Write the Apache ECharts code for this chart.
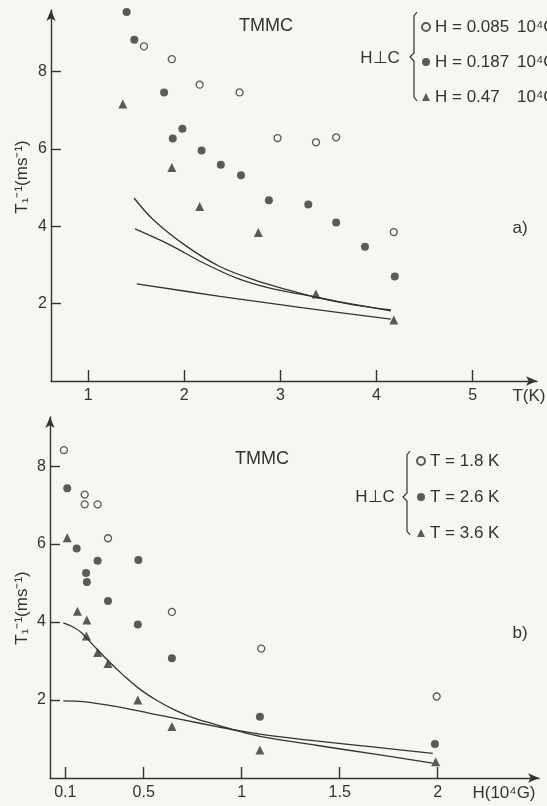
<!DOCTYPE html>
<html>
<head>
<meta charset="utf-8">
<script src="https://cdn.jsdelivr.net/npm/echarts@6/dist/echarts.min.js"></script>
<style>
  * { margin: 0; padding: 0; }
  body { background: #f6f6f3; }
  #main { width: 547px; height: 806px; }
</style>
</head>
<body>
<div id="main"></div>
<script>
  // panel a) : T1^-1 against T, three fields
  var aTicksT = [1, 2, 3, 4, 5];
  var aTicksR = [2, 4, 6, 8];
  var aOpenT = [1.58, 1.87, 2.16, 2.575, 2.97, 3.37, 3.58, 4.18];
  var aOpenR = [8.65, 8.32, 7.66, 7.46, 6.28, 6.17, 6.30, 3.85];
  var aFillT = [1.40, 1.48, 1.79, 1.88, 1.98, 2.18, 2.38, 2.59, 2.88, 3.29, 3.58, 3.88, 4.19];
  var aFillR = [9.54, 8.82, 7.46, 6.27, 6.52, 5.96, 5.59, 5.32, 4.67, 4.56, 4.10, 3.47, 2.70];
  var aTriT = [1.36, 1.87, 2.16, 2.77, 3.37, 4.18];
  var aTriR = [7.16, 5.52, 4.51, 3.84, 2.25, 1.58];
  var aFit1T = [1.477, 1.677, 2.025, 2.37, 2.72, 3.07, 3.41, 3.76, 4.15];
  var aFit1R = [4.73, 4.17, 3.48, 2.96, 2.62, 2.36, 2.14, 1.97, 1.84];
  var aFit2T = [1.487, 1.85, 2.2, 2.545, 2.89, 3.24, 3.59, 4.15];
  var aFit2R = [3.93, 3.52, 3.05, 2.66, 2.40, 2.23, 2.06, 1.81];
  var aFit3T = [1.505, 2.37, 3.24, 4.15];
  var aFit3R = [2.51, 2.19, 1.89, 1.60];
  var aNames = ['H = 0.085|10⁴G', 'H = 0.187|10⁴G', 'H = 0.47|10⁴G'];

  // panel b) : T1^-1 against H, three temperatures
  var bTicksH = [0.1, 0.5, 1, 1.5, 2];
  var bTicksR = [2, 4, 6, 8];
  var bOpenH = [0.093, 0.199, 0.199, 0.265, 0.318, 0.644, 1.10, 1.995];
  var bOpenR = [8.41, 7.27, 7.02, 7.02, 6.15, 4.26, 3.32, 2.09];
  var bFillH = [0.11, 0.158, 0.206, 0.21, 0.265, 0.318, 0.473, 0.47, 0.644, 1.093, 1.986];
  var bFillR = [7.43, 5.89, 5.26, 5.03, 5.57, 4.54, 5.59, 3.94, 3.07, 1.57, 0.87];
  var bTriH = [0.11, 0.162, 0.21, 0.208, 0.265, 0.318, 0.47, 0.644, 1.093, 1.99];
  var bTriR = [6.16, 4.28, 4.05, 3.64, 3.22, 2.94, 2.0, 1.32, 0.72, 0.42];
  var bFit1H = [0.09, 0.13, 0.18, 0.24, 0.32, 0.40, 0.48, 0.57, 0.66, 0.75, 0.86, 0.97, 1.1, 1.38, 1.68, 1.975];
  var bFit1R = [3.98, 3.90, 3.74, 3.42, 3.0, 2.62, 2.28, 1.98, 1.74, 1.55, 1.38, 1.22, 1.06, 0.84, 0.61, 0.38];
  var bFit2H = [0.09, 0.19, 0.362, 0.532, 0.702, 0.872, 1.0, 1.128, 1.38, 1.68, 1.975];
  var bFit2R = [1.98, 1.96, 1.83, 1.66, 1.49, 1.32, 1.2, 1.10, 0.95, 0.79, 0.63];
  var bNames = ['T = 1.8 K', 'T = 2.6 K', 'T = 3.6 K'];

  var ink = '#333';
  var paper = '#f6f6f3';
  var fam = 'Liberation Sans';

  function zip(xs, ys) {
    return xs.map(function (x, i) { return [x, ys[i]]; });
  }

  function xAxisOf(idx, min, max, ticks) {
    return {
      gridIndex: idx, type: 'value', min: min, max: max,
      axisLine: { symbol: ['none', 'arrow'], symbolSize: [7, 11], lineStyle: { color: ink, width: 1.4 } },
      axisTick: { inside: true, length: 11, customValues: ticks, lineStyle: { color: ink, width: 1.4 } },
      axisLabel: { customValues: ticks, margin: 7, color: ink, fontSize: 16, fontFamily: fam },
      splitLine: { show: false }
    };
  }
  function yAxisOf(idx, max, ticks) {
    return {
      gridIndex: idx, type: 'value', min: 0, max: max,
      axisLine: { show: true, symbol: ['none', 'arrow'], symbolSize: [7, 11], lineStyle: { color: ink, width: 1.4 } },
      axisTick: { show: true, inside: true, length: 10, customValues: ticks, lineStyle: { color: ink, width: 1.4 } },
      axisLabel: { customValues: ticks, margin: 4, color: ink, fontSize: 16, fontFamily: fam },
      splitLine: { show: false }
    };
  }

  var openStyle = { color: paper, borderColor: ink, borderWidth: 1.3 };
  var fillStyle = { color: ink };

  function dots(name, idx, data, symbol, size, style) {
    return {
      name: name, type: 'scatter', xAxisIndex: idx, yAxisIndex: idx,
      symbol: symbol, symbolSize: size, itemStyle: style, data: data, z: 5
    };
  }
  function fit(idx, data) {
    return {
      type: 'line', xAxisIndex: idx, yAxisIndex: idx, data: data,
      showSymbol: false, smooth: 0.35, lineStyle: { color: ink, width: 1.3 }, z: 3
    };
  }
  function txt(x, y, s, size, rot) {
    return {
      type: 'text', x: x, y: y, rotation: rot || 0, silent: true,
      style: { text: s, fill: ink, font: size + 'px "' + fam + '"',
        textAlign: 'center', textVerticalAlign: 'middle', align: 'center', verticalAlign: 'middle' }
    };
  }
  function brace(x, top, mid, bottom) {
    return {
      type: 'polyline', silent: true,
      shape: { points: [[x + 4, top], [x + 1, top + 4], [x + 1, mid - 4], [x - 3, mid], [x + 1, mid + 4], [x + 1, bottom - 4], [x + 4, bottom]] },
      style: { stroke: ink, lineWidth: 1.2, fill: null }
    };
  }

  var chart = echarts.init(document.getElementById('main'));
  chart.setOption({
    backgroundColor: paper,
    animation: false,
    textStyle: { fontFamily: fam },
    grid: [
      { left: 51, top: 10, right: 10, bottom: 425 },
      { left: 50, top: 417, right: 8, bottom: 28 }
    ],
    xAxis: [xAxisOf(0, 0.613, 5.67, aTicksT), xAxisOf(1, 0.022, 2.517, bTicksH)],
    yAxis: [yAxisOf(0, 9.59, aTicksR), yAxisOf(1, 9.26, bTicksR)],
    legend: [
      {
        data: aNames, orient: 'vertical', left: 416, top: 13, itemGap: 17,
        itemWidth: 8, itemHeight: 8, selectedMode: false,
        formatter: function (n) { var p = n.split('|'); return '{a|' + p[0] + '}{b|' + p[1] + '}'; },
        textStyle: { color: ink, fontSize: 17, lineHeight: 18,
          rich: { a: { width: 82, fontSize: 17, color: ink, fontFamily: fam }, b: { fontSize: 17, color: ink, fontFamily: fam } } }
      },
      {
        data: bNames, orient: 'vertical', left: 411, top: 447, itemGap: 18,
        itemWidth: 8, itemHeight: 8, selectedMode: false,
        textStyle: { color: ink, fontSize: 17, lineHeight: 18, fontFamily: fam }
      }
    ],
    graphic: [
      txt(266, 26, 'TMMC', 18),
      txt(380, 58, 'H⊥C', 17),
      brace(413, 12, 57, 101),
      txt(520, 228, 'a)', 17),
      txt(529, 396, 'T(K)', 17),
      txt(22, 177, 'T₁⁻¹(ms⁻¹)', 17, Math.PI / 2),
      txt(262, 459, 'TMMC', 18),
      txt(375, 497, 'H⊥C', 17),
      brace(406, 451, 497, 535),
      txt(520, 633, 'b)', 17),
      txt(504, 793, 'H(10⁴G)', 17),
      txt(22, 608, 'T₁⁻¹(ms⁻¹)', 17, Math.PI / 2)
    ],
    series: [
      dots(aNames[0], 0, zip(aOpenT, aOpenR), 'circle', 7, openStyle),
      dots(aNames[1], 0, zip(aFillT, aFillR), 'circle', 8, fillStyle),
      dots(aNames[2], 0, zip(aTriT, aTriR), 'triangle', 9, fillStyle),
      fit(0, zip(aFit1T, aFit1R)),
      fit(0, zip(aFit2T, aFit2R)),
      fit(0, zip(aFit3T, aFit3R)),
      dots(bNames[0], 1, zip(bOpenH, bOpenR), 'circle', 7, openStyle),
      dots(bNames[1], 1, zip(bFillH, bFillR), 'circle', 8, fillStyle),
      dots(bNames[2], 1, zip(bTriH, bTriR), 'triangle', 9, fillStyle),
      fit(1, zip(bFit1H, bFit1R)),
      fit(1, zip(bFit2H, bFit2R))
    ]
  });
</script>
</body>
</html>
